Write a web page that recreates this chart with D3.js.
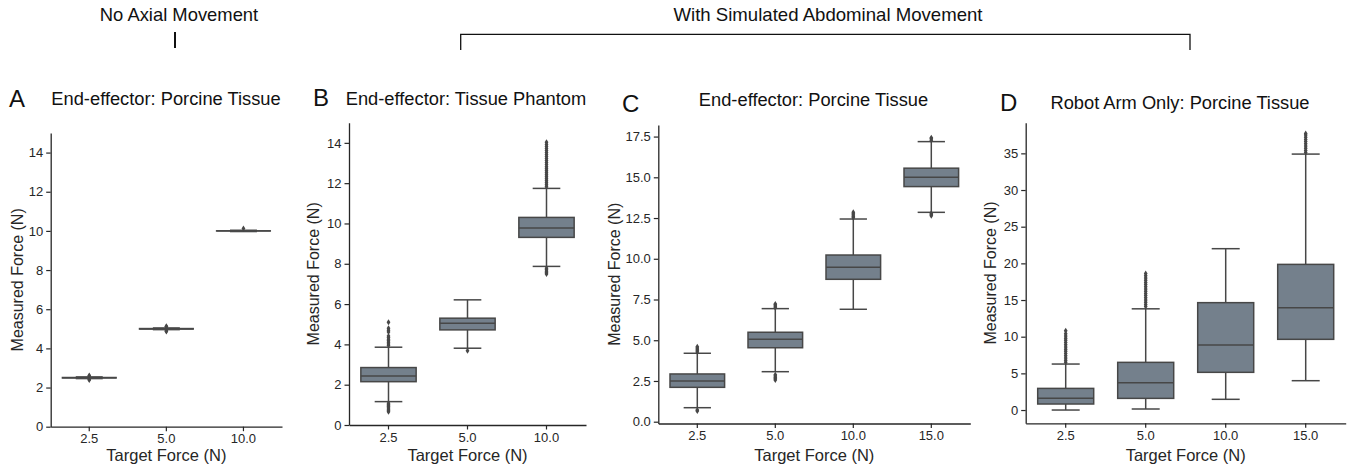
<!DOCTYPE html>
<html>
<head>
<meta charset="utf-8">
<script src="https://cdn.jsdelivr.net/npm/d3@7"></script>
<style>
  body { margin: 0; background: #fff; }
  svg { display: block; font-family: "Liberation Sans", Arial, sans-serif; }
</style>
</head>
<body>
<svg id="chart" width="1351" height="470"></svg>
<script>
// categories (target force, N)
const catsAB = ['2.5', '5.0', '10.0'];
const catsCD = ['2.5', '5.0', '10.0', '15.0'];

// box stats per category: [lower whisker, Q1, median, Q3, upper whisker]
const boxA = [[2.45, 2.48, 2.50, 2.52, 2.55], [4.95, 4.98, 5.00, 5.02, 5.05], [9.96, 9.99, 10.00, 10.01, 10.04]];
const boxB = [[1.16, 2.15, 2.43, 2.85, 3.86], [3.81, 4.72, 5.05, 5.30, 6.21], [7.87, 9.31, 9.78, 10.30, 11.74]];
const boxC = [[0.86, 2.11, 2.50, 2.93, 4.20], [3.07, 4.54, 5.06, 5.49, 6.94], [6.90, 8.74, 9.48, 10.23, 12.44], [12.85, 14.43, 15.00, 15.56, 17.19]];
const boxD = [[0.00, 0.82, 1.59, 2.95, 6.27], [0.14, 1.59, 3.72, 6.50, 13.80], [1.46, 5.14, 8.86, 14.64, 22.00], [4.00, 9.64, 13.95, 19.86, 34.90]];

// outliers per category
const fliersA = [[2.38, 2.42, 2.58, 2.62], [4.86, 4.90, 5.10, 5.13], [10.12]];
const fliersB = [
  [0.66, 0.72, 0.78, 0.84, 0.90, 0.96, 1.02, 1.08, 3.95, 4.02, 4.10, 4.18, 4.26, 4.34, 4.42, 4.62, 4.70, 4.80, 5.10],
  [3.69],
  [7.49, 7.56, 7.63, 7.70, 7.78, 11.82, 11.92, 12.02, 12.12, 12.22, 12.32, 12.42, 12.52, 12.62, 12.72, 12.82, 12.92,
   13.02, 13.12, 13.22, 13.32, 13.42, 13.52, 13.62, 13.72, 13.82, 13.92, 14.03]
];
const fliersC = [
  [0.66, 0.72, 4.28, 4.36, 4.44, 4.52, 4.60],
  [2.56, 2.64, 2.72, 2.80, 2.88, 7.00, 7.08, 7.16, 7.22],
  [12.52, 12.60, 12.68, 12.76, 12.85],
  [12.64, 12.72, 12.80, 17.28, 17.36, 17.43]
];
const fliersD = [
  [6.5, 6.8, 7.1, 7.4, 7.7, 8.0, 8.3, 8.6, 8.9, 9.2, 9.5, 9.8, 10.1, 10.4, 10.8],
  [14.1, 14.4, 14.7, 15.0, 15.3, 15.6, 15.9, 16.2, 16.5, 16.8, 17.1, 17.4, 17.7, 18.0, 18.3, 18.6],
  [],
  [35.1, 35.4, 35.7, 36.0, 36.3, 36.6, 36.9, 37.2, 37.5, 37.7]
];

// y tick values
const ticksA = [0, 2, 4, 6, 8, 10, 12, 14];
const ticksB = [0, 2, 4, 6, 8, 10, 12, 14];
const ticksC = [0, 2.5, 5, 7.5, 10, 12.5, 15, 17.5];
const ticksD = [0, 5, 10, 15, 20, 25, 30, 35];

const titles = ['End-effector: Porcine Tissue', 'End-effector: Tissue Phantom', 'End-effector: Porcine Tissue', 'Robot Arm Only: Porcine Tissue'];
const letters = ['A', 'B', 'C', 'D'];

const fill = '#74808c';
const gray = '#474747';
const ink = '#262626';

const svg = d3.select('#chart');

const panels = [
  { cats: catsAB, box: boxA, fliers: fliersA, ticks: ticksA, fmt: d3.format('d'), dom: [0, 15], lw: 1.2,
    x0: 50.7, x1: 282, yb: 426.7, yt: 133, lx: 9, ly: 107, tx: 166, tly: 105, labx: 17 },
  { cats: catsAB, box: boxB, fliers: fliersB, ticks: ticksB, fmt: d3.format('d'), dom: [0, 15], lw: 1.5,
    x0: 349, x1: 586, yb: 425, yt: 122.7, lx: 313, ly: 106, tx: 466, tly: 105, labx: 313 },
  { cats: catsCD, box: boxC, fliers: fliersC, ticks: ticksC, fmt: d3.format('.1f'), dom: [-0.11, 18.21], lw: 1.5,
    x0: 658.3, x1: 970.3, yb: 423.5, yt: 125, lx: 622, ly: 111.5, tx: 813.5, tly: 106, labx: 614 },
  { cats: catsCD, box: boxD, fliers: fliersD, ticks: ticksD, fmt: d3.format('d'), dom: [-1.81, 39.18], lw: 1.5,
    x0: 1025.7, x1: 1345.7, yb: 423.3, yt: 122.7, lx: 1000, ly: 111, tx: 1180, tly: 109, labx: 990 }
];

// thin diamond marker like matplotlib 'd'
const diamond = 'M0,-3L1.9,0L0,3L-1.9,0Z';

panels.forEach((p, pi) => {
  const x = d3.scaleBand().domain(p.cats).range([p.x0, p.x1]);
  const y = d3.scaleLinear().domain(p.dom).range([p.yb, p.yt]);
  const g = svg.append('g');
  const bw = x.bandwidth() * 0.7;

  // axes
  const xAxis = g.append('g')
    .attr('transform', `translate(0,${p.yb})`)
    .call(d3.axisBottom(x).tickSize(4.5).tickSizeOuter(0).tickPadding(3));
  const yAxis = g.append('g')
    .attr('transform', `translate(${p.x0},0)`)
    .call(d3.axisLeft(y).tickValues(p.ticks).tickFormat(p.fmt).tickSize(4.5).tickSizeOuter(0).tickPadding(3));
  [xAxis, yAxis].forEach(a => {
    a.select('.domain').attr('stroke', ink).attr('stroke-width', 1.3);
    a.selectAll('.tick line').attr('stroke', ink).attr('stroke-width', 1.2);
    a.selectAll('.tick text').attr('fill', ink).style('font-size', '13px').style('font-family', '"Liberation Sans", Arial, sans-serif');
  });

  // boxes
  p.box.forEach((s, i) => {
    const cx = x(p.cats[i]) + x.bandwidth() / 2;
    const [lo, q1, med, q3, hi] = s;
    const bg = g.append('g');
    bg.append('line').attr('x1', cx).attr('x2', cx).attr('y1', y(q3)).attr('y2', y(hi))
      .attr('stroke', gray).attr('stroke-width', p.lw);
    bg.append('line').attr('x1', cx).attr('x2', cx).attr('y1', y(q1)).attr('y2', y(lo))
      .attr('stroke', gray).attr('stroke-width', p.lw);
    [lo, hi].forEach(v => {
      bg.append('line').attr('x1', cx - bw / 4).attr('x2', cx + bw / 4).attr('y1', y(v)).attr('y2', y(v))
        .attr('stroke', gray).attr('stroke-width', p.lw);
    });
    bg.append('rect').attr('x', cx - bw / 2).attr('width', bw)
      .attr('y', y(q3)).attr('height', Math.max(0.1, y(q1) - y(q3)))
      .attr('fill', fill).attr('stroke', gray).attr('stroke-width', p.lw);
    bg.append('line').attr('x1', cx - bw / 2).attr('x2', cx + bw / 2).attr('y1', y(med)).attr('y2', y(med))
      .attr('stroke', gray).attr('stroke-width', p.lw);
    bg.selectAll('path.flier').data(p.fliers[i]).enter().append('path')
      .attr('class', 'flier')
      .attr('d', diamond)
      .attr('transform', d => `translate(${cx},${y(d)})`)
      .attr('fill', gray);
  });

  // labels
  g.append('text').attr('x', (p.x0 + p.x1) / 2).attr('y', 461)
    .attr('text-anchor', 'middle').attr('fill', ink).style('font-size', '16.5px').text('Target Force (N)');
  g.append('text').attr('transform', `translate(${p.labx},${(p.yb + p.yt) / 2}) rotate(-90)`)
    .attr('text-anchor', 'middle').attr('dominant-baseline', 'central').attr('fill', ink)
    .style('font-size', '16px').text('Measured Force (N)');
  g.append('text').attr('x', p.tx).attr('y', p.tly)
    .attr('text-anchor', 'middle').attr('fill', '#111').style('font-size', '18.3px').text(titles[pi]);
  g.append('text').attr('x', p.lx).attr('y', p.ly)
    .attr('fill', '#111').style('font-size', '24px').text(letters[pi]);
});

// header annotations
svg.append('text').attr('x', 179).attr('y', 21).attr('text-anchor', 'middle')
  .style('font-size', '18.4px').attr('fill', '#111').text('No Axial Movement');
svg.append('line').attr('x1', 175).attr('x2', 175).attr('y1', 32).attr('y2', 48)
  .attr('stroke', '#111').attr('stroke-width', 2);
svg.append('text').attr('x', 828).attr('y', 21).attr('text-anchor', 'middle')
  .style('font-size', '18.6px').attr('fill', '#111').text('With Simulated Abdominal Movement');
svg.append('path').attr('d', 'M460.7,50V34.3H1190V50')
  .attr('fill', 'none').attr('stroke', '#111').attr('stroke-width', 1.3);
</script>
</body>
</html>
